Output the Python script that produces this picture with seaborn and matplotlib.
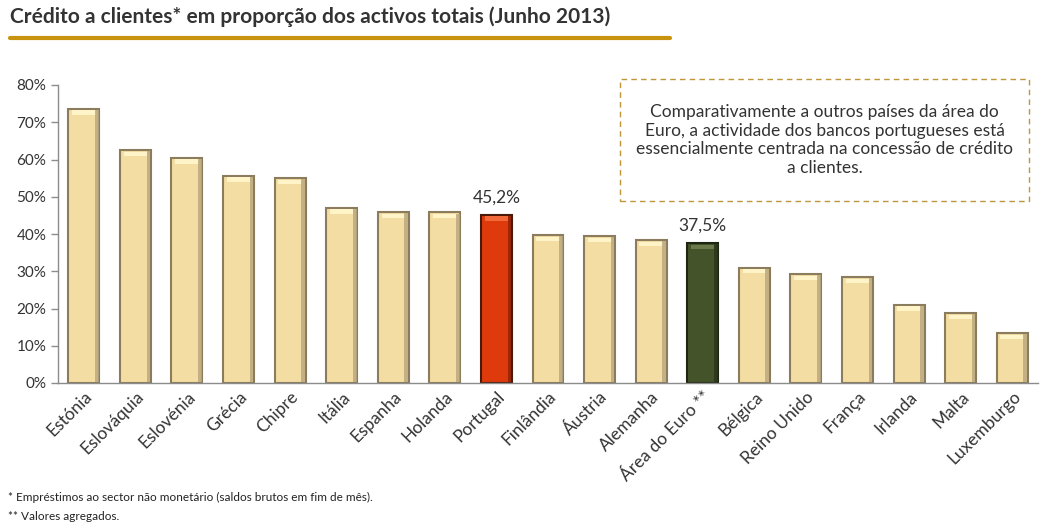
import matplotlib
matplotlib.use("Agg")
import matplotlib.pyplot as plt
import seaborn as sns
import pandas as pd
from matplotlib.patches import Rectangle
from matplotlib.ticker import PercentFormatter, FixedLocator

categories = ["Estónia", "Eslováquia", "Eslovénia", "Grécia", "Chipre", "Itália",
              "Espanha", "Holanda", "Portugal", "Finlândia", "Áustria", "Alemanha",
              "Área do Euro **", "Bélgica", "Reino Unido", "França", "Irlanda",
              "Malta", "Luxemburgo"]
values = [73.6, 62.5, 60.4, 55.6, 55.0, 47.0, 45.9, 45.8, 45.2, 39.7, 39.4, 38.3,
          37.5, 31.0, 29.2, 28.4, 21.0, 18.7, 13.4]
labeled = {"Portugal": "45,2%", "Área do Euro **": "37,5%"}

base_col = "#F3DDA2"
colors = {c: base_col for c in categories}
colors["Portugal"] = "#DE3A0C"
colors["Área do Euro **"] = "#45532B"
edge = {c: "#8A7C5C" for c in categories}
edge["Portugal"] = "#4A1A08"
edge["Área do Euro **"] = "#1E2512"
shade = {c: "#B8A77E" for c in categories}
shade["Portugal"] = "#8A2206"
shade["Área do Euro **"] = "#2A341A"

sns.set_theme(style="white")
plt.rcParams["font.family"] = ["Lato", "DejaVu Sans"]

df = pd.DataFrame({"pais": categories, "valor": values})

fig = plt.figure(figsize=(10.41, 5.26), dpi=100)
ax = fig.add_axes([58/1041, 1-383/526, (1038-58)/1041, (383-85)/526])
sns.barplot(data=df, x="pais", y="valor", hue="pais", palette=colors, legend=False,
            width=0.6, ax=ax, saturation=1, linewidth=1.5)
for p, c in list(zip(ax.patches, categories)):
    p.set_edgecolor(edge[c])
    x, w, h = p.get_x(), p.get_width(), p.get_height()
    hl = "#FFF3C8" if c not in labeled else ("#F26A3A" if c == "Portugal" else "#6A7A4A")
    ax.add_patch(Rectangle((x + w*0.12, h - 1.6), w*0.76, 1.2, facecolor=hl,
                           edgecolor="none", zorder=3))
    ax.add_patch(Rectangle((x + w*0.86, 0.3), w*0.12, h - 0.6, facecolor=shade[c],
                           edgecolor="none", zorder=3, alpha=0.8))

ax.set_ylim(0, 80)
ax.set_xlim(-0.5, len(categories) - 0.5)
ax.yaxis.set_major_locator(FixedLocator(range(0, 81, 10)))
ax.yaxis.set_major_formatter(PercentFormatter(decimals=0))
ax.xaxis.set_minor_locator(FixedLocator([i + 0.5 for i in range(-1, len(categories))]))
ax.tick_params(axis="x", which="major", length=0, pad=4)
ax.tick_params(axis="x", which="minor", length=5, color="#8C8C8C", direction="out")
ax.tick_params(axis="y", length=5, color="#8C8C8C", direction="out", width=1,
               labelsize=11, labelcolor="#333333", left=True)
ax.set_xticks(range(len(categories)))
ax.set_xticklabels(categories, rotation=45, ha="right", rotation_mode="anchor",
                   fontsize=12.5, color="#333333")
ax.set_xlabel("")
ax.set_ylabel("")
for s in ["top", "right"]:
    ax.spines[s].set_visible(False)
for s in ["left", "bottom"]:
    ax.spines[s].set_color("#8C8C8C")
    ax.spines[s].set_linewidth(1)

for i, c in enumerate(categories):
    if c in labeled:
        ax.text(i, values[i] + 2.5, labeled[c], ha="center", va="bottom",
                fontsize=12.5, color="#333333")

fig.text(10/1041, 1-17/526, "Crédito a clientes* em proporção dos activos totais (Junho 2013)",
         fontsize=15, fontweight="bold", color="#333333", va="center", ha="left")
fig.add_artist(plt.Line2D([10/1041, 670/1041], [1-38/526, 1-38/526],
                          color="#C8930E", linewidth=3))

fig.patches.append(Rectangle((620/1041, 1-201/526), (1029-620)/1041, (201-79)/526,
                             transform=fig.transFigure, fill=False, edgecolor="#C0963C",
                             linestyle=(0, (4, 3)), linewidth=1))
fig.text((620+1029)/2/1041, 1-140/526,
         "Comparativamente a outros países da área do\nEuro, a actividade dos bancos portugueses está\n"
         "essencialmente centrada na concessão de crédito\na clientes.",
         ha="center", va="center", fontsize=12.5, color="#333333", linespacing=1.2)

fig.text(8/1041, 1-497/526, "* Empréstimos ao sector não monetário (saldos brutos em fim de mês).",
         fontsize=8.5, color="#222222", va="center")
fig.text(8/1041, 1-516/526, "** Valores agregados.", fontsize=8.5, color="#222222", va="center")

fig.savefig("out.png", dpi=100)
